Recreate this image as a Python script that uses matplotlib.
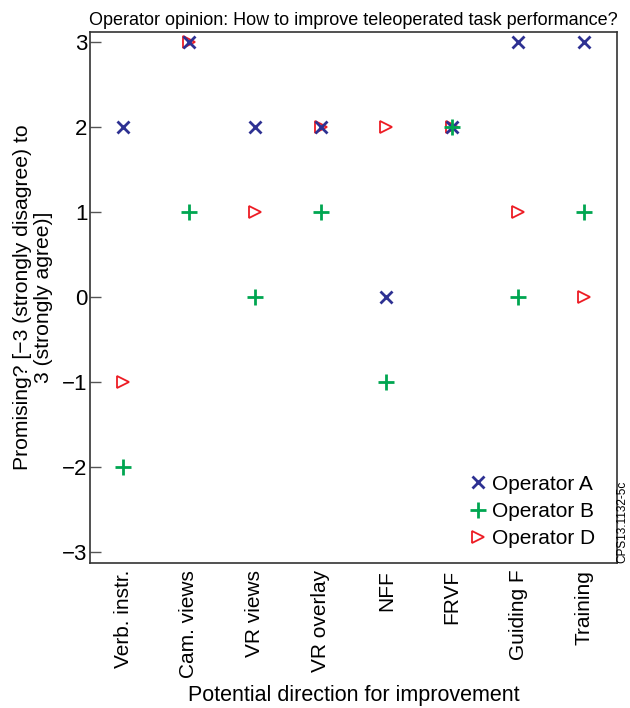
import numpy as np
import matplotlib.pyplot as plt

plt.rcParams['font.family'] = ['Liberation Sans', 'DejaVu Sans']

categories = ["Verb. instr.", "Cam. views", "VR views", "VR overlay", "NFF", "FRVF", "Guiding F", "Training"]
operator_a = [2, 3, 2, 2, 0, 2, 3, 3]
operator_b = [-2, 1, 0, 1, -1, 2, 0, 1]
operator_d = [-1, 3, 1, 2, 2, 2, 1, 0]
y_ticks = [-3, -2, -1, 0, 1, 2, 3]


def main():
    fig = plt.figure(figsize=(6.3, 7.08), dpi=100)
    ax = fig.add_axes([0.143, 0.205, 0.836, 0.750])

    x = np.arange(len(categories))
    ax.plot(x, operator_a, linestyle="none", marker="x", color="#2E3192",
            markersize=8, markeredgewidth=2, label="Operator A", zorder=3)
    ax.plot(x, operator_b, linestyle="none", marker="+", color="#00A651",
            markersize=11, markeredgewidth=2, label="Operator B", zorder=4)
    ax.plot(x, operator_d, linestyle="none", marker=">", color="#ED1C24",
            markerfacecolor="none", markersize=9, markeredgewidth=1.3,
            label="Operator D", zorder=2)

    ax.set_xlim(-0.5, 7.5)
    ax.set_ylim(-3.13, 3.12)
    ax.set_yticks(y_ticks)
    ax.set_yticklabels([str(v).replace("-", "\u2212") for v in y_ticks], fontsize=16)
    ax.set_xticks(x)
    ax.set_xticklabels(categories, rotation=90, fontsize=15)
    ax.tick_params(axis="y", direction="in", length=8, width=1, pad=2, color="#555555")
    ax.tick_params(axis="x", length=0, pad=5)
    for s in ax.spines.values():
        s.set_linewidth(1.2)
        s.set_color("#333333")

    ax.set_xlabel("Potential direction for improvement", fontsize=15.5, labelpad=5)
    ax.set_ylabel("Promising? [\u22123 (strongly disagree) to\n3 (strongly agree)]",
                  fontsize=15.2, labelpad=6, linespacing=1.15)
    ax.set_title("Operator opinion: How to improve teleoperated task performance?",
                 fontsize=13, family=["Liberation Sans Narrow", "Liberation Sans"], pad=5)

    ax.legend(loc="lower right", bbox_to_anchor=(0.987, 0.0), frameon=False,
              fontsize=15, handletextpad=0.1, borderaxespad=0.3,
              labelspacing=0.4, handlelength=1.2)

    fig.text(0.997, 0.205, "CPS13.1132-5c", rotation=90, fontsize=8.5,
             ha="right", va="bottom")

    fig.savefig("out.png", dpi=100)


if __name__ == "__main__":
    main()
